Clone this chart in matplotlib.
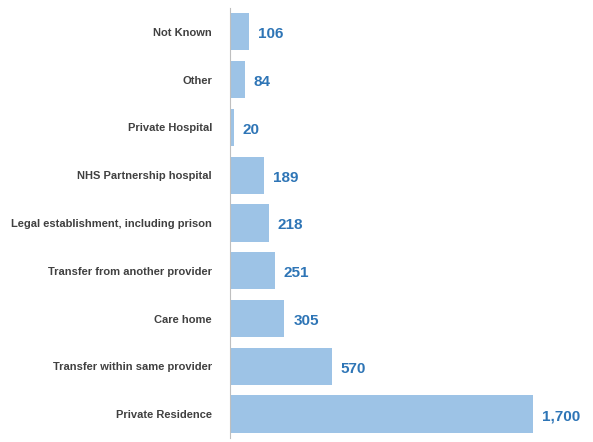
import matplotlib
matplotlib.use("Agg")
import matplotlib.pyplot as plt

categories = ["Private Residence", "Transfer within same provider", "Care home",
              "Transfer from another provider", "Legal establishment, including prison",
              "NHS Partnership hospital", "Private Hospital", "Other", "Not Known"]
values = [1700, 570, 305, 251, 218, 189, 20, 84, 106]

fam = ["Liberation Sans Narrow", "Liberation Sans", "DejaVu Sans"]
fig = plt.figure(figsize=(5.93, 4.42), dpi=100)
ax = fig.add_axes([0.388, 0.009, 0.612, 0.973])
y = range(len(categories))
ax.barh(y, values, height=0.78, color="#9DC3E6")
ax.set_ylim(-0.5, len(categories) - 0.5)
ax.set_xlim(0, 2037)
for i, v in enumerate(values):
    ax.text(v + 50, i - 0.05, f"{v:,}", va="center", ha="left", fontsize=11,
            fontweight="bold", color="#2E75B6", family=fam)
ax.set_yticks(list(y))
ax.set_yticklabels(categories, fontsize=8, fontweight="bold", color="#404040", family=fam)
ax.tick_params(axis="y", length=0, pad=13)
ax.set_xticks([])
for s in ["top", "right", "bottom"]:
    ax.spines[s].set_visible(False)
ax.spines["left"].set_color("#BFBFBF")
fig.savefig("out.png", dpi=100)
